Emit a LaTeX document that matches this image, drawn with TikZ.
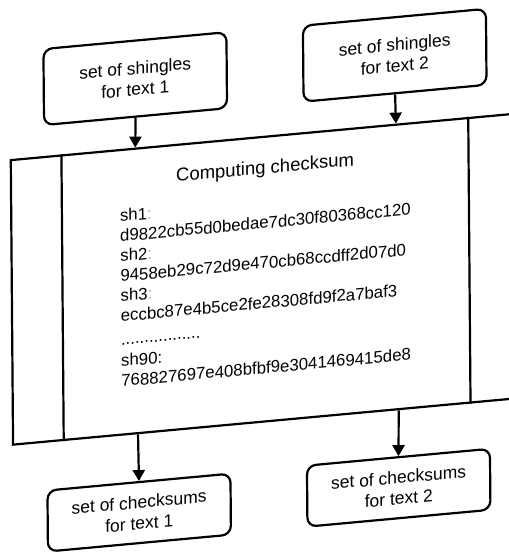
\documentclass[tikz,border=0pt]{standalone}
\usepackage{fontspec}
\setmainfont{Liberation Sans}
\usetikzlibrary{arrows.meta,calc}

\tikzset{
  boxline/.style={line width=2.2pt},
  stagebox/.style={boxline, draw, rounded corners=9pt, minimum width=183pt,
    inner sep=0pt, align=center, font=\fontsize{17.5}{21}\selectfont},
  inbox/.style={stagebox, minimum height=76pt},
  outbox/.style={stagebox, minimum height=61pt},
  flow/.style={boxline, -{Triangle[length=11pt,width=12pt]}},
  titletext/.style={inner sep=0pt, anchor=base, font=\fontsize{18.5}{22}\selectfont},
  hashline/.style={inner sep=0pt, anchor=base west, font=\fontsize{16.8}{20}\selectfont},
}
\newcommand{\faintcolon}{\textcolor{black!35}{:}}

\begin{document}
\begin{tikzpicture}[x=1pt,y=-1pt]
  \path[use as bounding box] (0,0) rectangle (509,552);
  \clip (0,0) rectangle (509,552);

  % the sheet is slightly skewed: horizontal rules rise to the right
  \begin{scope}[cm={1,0.092,-0.008,1,(0,0)}, transform shape]
    % input sets
    \node[inbox] (s1) at (134.5,91) {set of shingles\\for text 1};
    \node[inbox] (s2) at (394,91.5) {set of shingles\\for text 2};

    % processing block with side bars
    \node[boxline, draw, minimum width=508pt, minimum height=284.5pt,
          inner sep=0pt] (cc) at (263.5,303.25) {};
    \draw[boxline] ($(cc.north west)!0.1014!(cc.north east)$)
                -- ($(cc.south west)!0.1014!(cc.south east)$);
    \draw[boxline] ($(cc.north west)!0.8986!(cc.north east)$)
                -- ($(cc.south west)!0.8986!(cc.south east)$);

    \node[titletext] (title) at (263.5,198) {Computing checksum};

    \node[hashline] (h1) at (118,232.6) {sh1\faintcolon};
    \node[hashline] (h2) at (118,252.6) {d9822cb55d0bedae7dc30f80368cc120};
    \node[hashline] (h3) at (118,272.6) {sh2\faintcolon};
    \node[hashline] (h4) at (118,292.6) {9458eb29c72d9e470cb68ccdff2d07d0};
    \node[hashline] (h5) at (118,312.6) {sh3\faintcolon};
    \node[hashline] (h6) at (118,332.6) {eccbc87e4b5ce2fe28308fd9f2a7baf3};
    \node[hashline] (h7) at (118,356) {.................};
    \node[hashline] (h8) at (118,377.6) {sh90:};
    \node[hashline] (h9) at (118,397.6) {768827697e408bfbf9e3041469415de8};

    % output sets
    \node[outbox] (c1) at (135,525) {set of checksums\\for text 1};
    \node[outbox] (c2) at (394.5,524) {set of checksums\\for text 2};

    % flow
    \draw[flow] (s1.south) -- ($(cc.north west)!0.2461!(cc.north east)$);
    \draw[flow] (s2.south) -- ($(cc.north west)!0.7569!(cc.north east)$);
    \draw[flow] ($(cc.south west)!0.2470!(cc.south east)$) -- (c1.north);
    \draw[flow] ($(cc.south west)!0.7579!(cc.south east)$) -- (c2.north);
  \end{scope}
\end{tikzpicture}
\end{document}
